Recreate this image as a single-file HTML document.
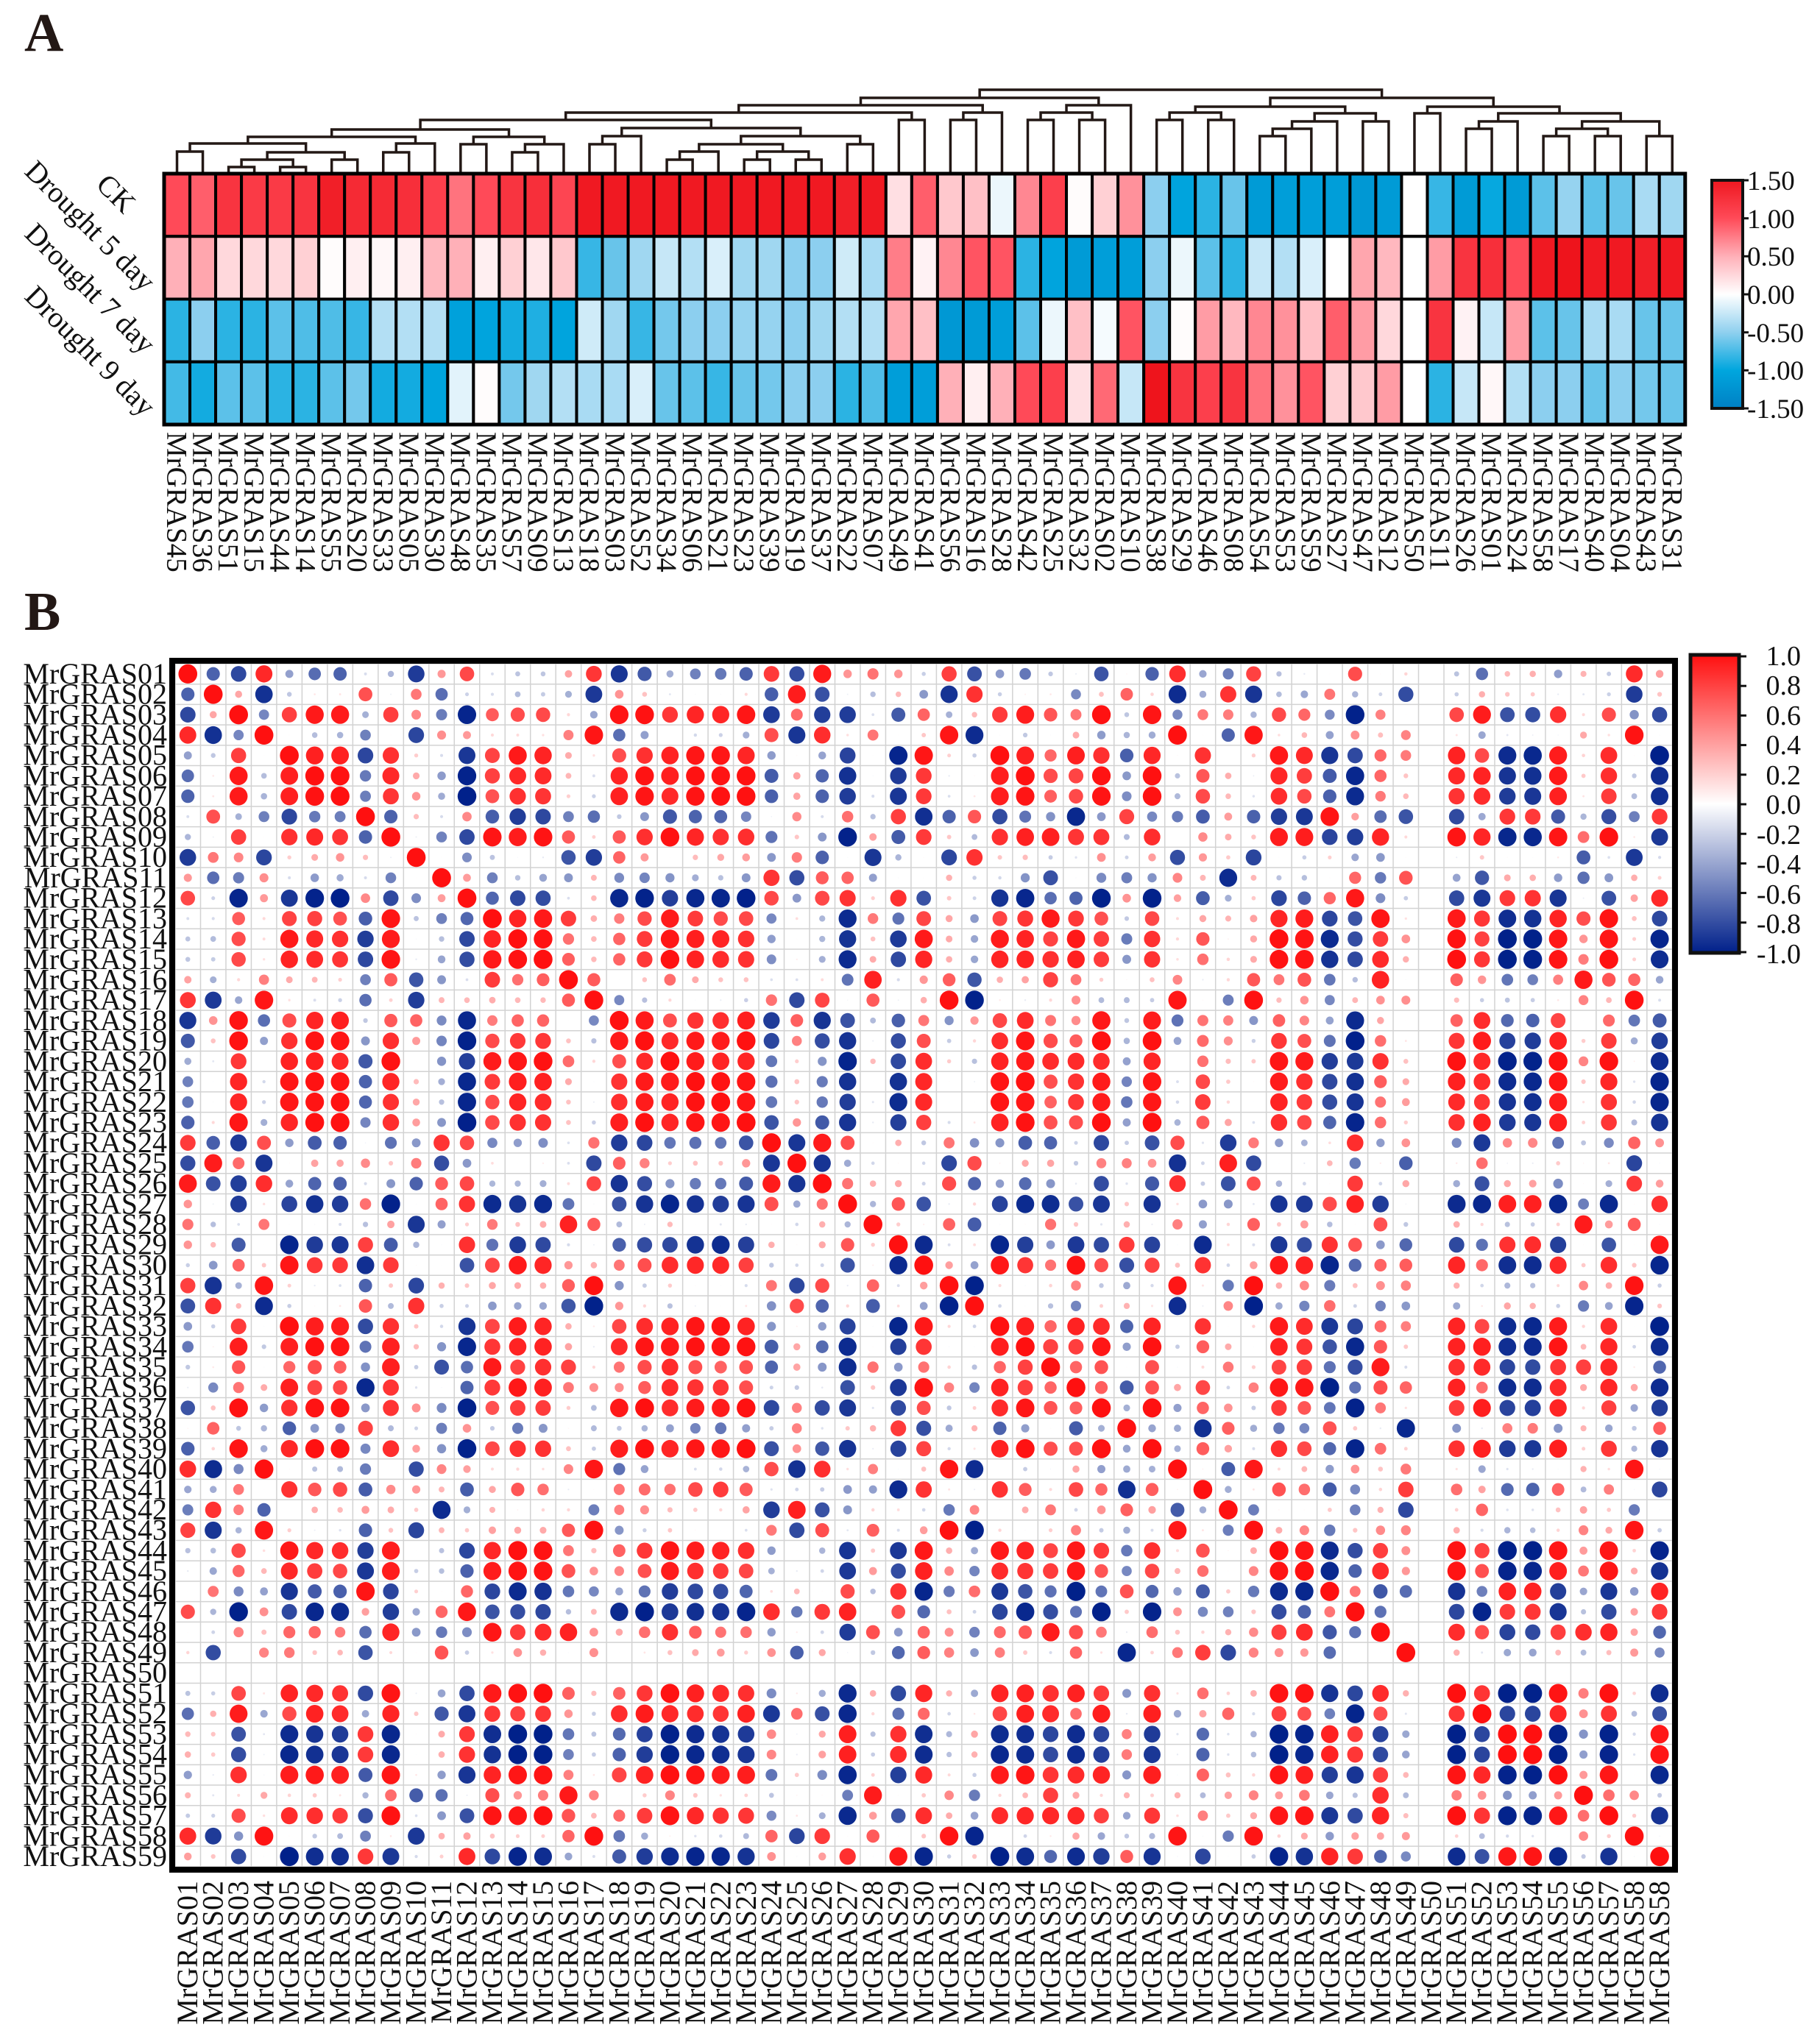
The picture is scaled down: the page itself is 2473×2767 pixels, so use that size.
<!DOCTYPE html>
<html><head><meta charset="utf-8">
<style>
html,body{margin:0;padding:0;background:#fff;}
svg{display:block;font-family:"Liberation Serif",serif;}
.al,.bl,.bc{font-size:39px;fill:#111;}
.bl,.bc{font-size:40px;}
.rl{font-size:40px;fill:#111;}
.cb{font-size:37px;fill:#111;}
.cb2{font-size:38px;fill:#111;}
</style></head><body>
<svg id="s" width="2473" height="2767" viewBox="0 0 2473 2767" xmlns="http://www.w3.org/2000/svg">
<rect width="2473" height="2767" fill="#fff"/>
<defs>
<linearGradient id="gA" x1="0" y1="0" x2="0" y2="1">
<stop offset="0" stop-color="#ee1820"/><stop offset="0.1667" stop-color="#ff4a58"/><stop offset="0.3333" stop-color="#ffb0b8"/><stop offset="0.5" stop-color="#ffffff"/><stop offset="0.6667" stop-color="#8fd0ef"/><stop offset="0.8333" stop-color="#00a6de"/><stop offset="1" stop-color="#0080c4"/>
</linearGradient>
<linearGradient id="gB" x1="0" y1="0" x2="0" y2="1">
<stop offset="0" stop-color="#ff1010"/><stop offset="0.5" stop-color="#ffffff"/><stop offset="1" stop-color="#00208a"/>
</linearGradient>
</defs>
<text x="33" y="69" style="font-size:74px;font-weight:bold;fill:#231815">A</text>
<text x="33" y="856" style="font-size:74px;font-weight:bold;fill:#231815">B</text>
<g id="dend" stroke="#231815" stroke-width="3.5" fill="none"></g>
<g id="heat"></g>
<text class="rl" transform="translate(168,292) rotate(45)" text-anchor="end">CK</text>
<text class="rl" transform="translate(195,398) rotate(45)" text-anchor="end">Drought 5 day</text>
<text class="rl" transform="translate(195,483) rotate(45)" text-anchor="end">Drought 7 day</text>
<text class="rl" transform="translate(195,568) rotate(45)" text-anchor="end">Drought 9 day</text>
<rect x="2326" y="245" width="42" height="310" fill="url(#gA)" stroke="#111" stroke-width="4"/>
<g stroke="#111" stroke-width="3">
<line x1="2368" y1="245" x2="2376" y2="245"/><line x1="2368" y1="296.7" x2="2376" y2="296.7"/><line x1="2368" y1="348.3" x2="2376" y2="348.3"/><line x1="2368" y1="400" x2="2376" y2="400"/><line x1="2368" y1="451.7" x2="2376" y2="451.7"/><line x1="2368" y1="503.3" x2="2376" y2="503.3"/><line x1="2368" y1="555" x2="2376" y2="555"/>
</g>
<text class="cb" x="2374" y="258">1.50</text>
<text class="cb" x="2374" y="310">1.00</text>
<text class="cb" x="2374" y="361">0.50</text>
<text class="cb" x="2374" y="413">0.00</text>
<text class="cb" x="2374" y="465">-0.50</text>
<text class="cb" x="2374" y="516">-1.00</text>
<text class="cb" x="2374" y="568">-1.50</text>
<g id="alabels">
<text class="al">MrGRAS45</text><text class="al">MrGRAS36</text><text class="al">MrGRAS51</text><text class="al">MrGRAS15</text><text class="al">MrGRAS44</text><text class="al">MrGRAS14</text><text class="al">MrGRAS55</text><text class="al">MrGRAS20</text><text class="al">MrGRAS33</text><text class="al">MrGRAS05</text><text class="al">MrGRAS30</text><text class="al">MrGRAS48</text><text class="al">MrGRAS35</text><text class="al">MrGRAS57</text><text class="al">MrGRAS09</text><text class="al">MrGRAS13</text><text class="al">MrGRAS18</text><text class="al">MrGRAS03</text><text class="al">MrGRAS52</text><text class="al">MrGRAS34</text><text class="al">MrGRAS06</text><text class="al">MrGRAS21</text><text class="al">MrGRAS23</text><text class="al">MrGRAS39</text><text class="al">MrGRAS19</text><text class="al">MrGRAS37</text><text class="al">MrGRAS22</text><text class="al">MrGRAS07</text><text class="al">MrGRAS49</text><text class="al">MrGRAS41</text><text class="al">MrGRAS56</text><text class="al">MrGRAS16</text><text class="al">MrGRAS28</text><text class="al">MrGRAS42</text><text class="al">MrGRAS25</text><text class="al">MrGRAS32</text><text class="al">MrGRAS02</text><text class="al">MrGRAS10</text><text class="al">MrGRAS38</text><text class="al">MrGRAS29</text><text class="al">MrGRAS46</text><text class="al">MrGRAS08</text><text class="al">MrGRAS54</text><text class="al">MrGRAS53</text><text class="al">MrGRAS59</text><text class="al">MrGRAS27</text><text class="al">MrGRAS47</text><text class="al">MrGRAS12</text><text class="al">MrGRAS50</text><text class="al">MrGRAS11</text><text class="al">MrGRAS26</text><text class="al">MrGRAS01</text><text class="al">MrGRAS24</text><text class="al">MrGRAS58</text><text class="al">MrGRAS17</text><text class="al">MrGRAS40</text><text class="al">MrGRAS04</text><text class="al">MrGRAS43</text><text class="al">MrGRAS31</text>
</g>
<g id="grid" stroke="#d2d2d2" stroke-width="1.5"></g>
<g id="dots"></g>
<rect x="234" y="898" width="2042" height="1643" fill="none" stroke="#000" stroke-width="8"/>
<rect x="2297" y="890" width="66" height="405" fill="url(#gB)" stroke="#111" stroke-width="5"/>
<g id="ticksB" stroke="#111" stroke-width="3"></g>
<text class="cb2" x="2447" y="904" text-anchor="end">1.0</text>
<text class="cb2" x="2447" y="944" text-anchor="end">0.8</text>
<text class="cb2" x="2447" y="985" text-anchor="end">0.6</text>
<text class="cb2" x="2447" y="1025" text-anchor="end">0.4</text>
<text class="cb2" x="2447" y="1066" text-anchor="end">0.2</text>
<text class="cb2" x="2447" y="1106" text-anchor="end">0.0</text>
<text class="cb2" x="2447" y="1147" text-anchor="end">-0.2</text>
<text class="cb2" x="2447" y="1187" text-anchor="end">-0.4</text>
<text class="cb2" x="2447" y="1228" text-anchor="end">-0.6</text>
<text class="cb2" x="2447" y="1268" text-anchor="end">-0.8</text>
<text class="cb2" x="2447" y="1309" text-anchor="end">-1.0</text>
<g id="brows">
<text class="bl">MrGRAS01</text><text class="bl">MrGRAS02</text><text class="bl">MrGRAS03</text><text class="bl">MrGRAS04</text><text class="bl">MrGRAS05</text><text class="bl">MrGRAS06</text><text class="bl">MrGRAS07</text><text class="bl">MrGRAS08</text><text class="bl">MrGRAS09</text><text class="bl">MrGRAS10</text><text class="bl">MrGRAS11</text><text class="bl">MrGRAS12</text><text class="bl">MrGRAS13</text><text class="bl">MrGRAS14</text><text class="bl">MrGRAS15</text><text class="bl">MrGRAS16</text><text class="bl">MrGRAS17</text><text class="bl">MrGRAS18</text><text class="bl">MrGRAS19</text><text class="bl">MrGRAS20</text><text class="bl">MrGRAS21</text><text class="bl">MrGRAS22</text><text class="bl">MrGRAS23</text><text class="bl">MrGRAS24</text><text class="bl">MrGRAS25</text><text class="bl">MrGRAS26</text><text class="bl">MrGRAS27</text><text class="bl">MrGRAS28</text><text class="bl">MrGRAS29</text><text class="bl">MrGRAS30</text><text class="bl">MrGRAS31</text><text class="bl">MrGRAS32</text><text class="bl">MrGRAS33</text><text class="bl">MrGRAS34</text><text class="bl">MrGRAS35</text><text class="bl">MrGRAS36</text><text class="bl">MrGRAS37</text><text class="bl">MrGRAS38</text><text class="bl">MrGRAS39</text><text class="bl">MrGRAS40</text><text class="bl">MrGRAS41</text><text class="bl">MrGRAS42</text><text class="bl">MrGRAS43</text><text class="bl">MrGRAS44</text><text class="bl">MrGRAS45</text><text class="bl">MrGRAS46</text><text class="bl">MrGRAS47</text><text class="bl">MrGRAS48</text><text class="bl">MrGRAS49</text><text class="bl">MrGRAS50</text><text class="bl">MrGRAS51</text><text class="bl">MrGRAS52</text><text class="bl">MrGRAS53</text><text class="bl">MrGRAS54</text><text class="bl">MrGRAS55</text><text class="bl">MrGRAS56</text><text class="bl">MrGRAS57</text><text class="bl">MrGRAS58</text><text class="bl">MrGRAS59</text>
</g>
<g id="bcols">
<text class="bc">MrGRAS01</text><text class="bc">MrGRAS02</text><text class="bc">MrGRAS03</text><text class="bc">MrGRAS04</text><text class="bc">MrGRAS05</text><text class="bc">MrGRAS06</text><text class="bc">MrGRAS07</text><text class="bc">MrGRAS08</text><text class="bc">MrGRAS09</text><text class="bc">MrGRAS10</text><text class="bc">MrGRAS11</text><text class="bc">MrGRAS12</text><text class="bc">MrGRAS13</text><text class="bc">MrGRAS14</text><text class="bc">MrGRAS15</text><text class="bc">MrGRAS16</text><text class="bc">MrGRAS17</text><text class="bc">MrGRAS18</text><text class="bc">MrGRAS19</text><text class="bc">MrGRAS20</text><text class="bc">MrGRAS21</text><text class="bc">MrGRAS22</text><text class="bc">MrGRAS23</text><text class="bc">MrGRAS24</text><text class="bc">MrGRAS25</text><text class="bc">MrGRAS26</text><text class="bc">MrGRAS27</text><text class="bc">MrGRAS28</text><text class="bc">MrGRAS29</text><text class="bc">MrGRAS30</text><text class="bc">MrGRAS31</text><text class="bc">MrGRAS32</text><text class="bc">MrGRAS33</text><text class="bc">MrGRAS34</text><text class="bc">MrGRAS35</text><text class="bc">MrGRAS36</text><text class="bc">MrGRAS37</text><text class="bc">MrGRAS38</text><text class="bc">MrGRAS39</text><text class="bc">MrGRAS40</text><text class="bc">MrGRAS41</text><text class="bc">MrGRAS42</text><text class="bc">MrGRAS43</text><text class="bc">MrGRAS44</text><text class="bc">MrGRAS45</text><text class="bc">MrGRAS46</text><text class="bc">MrGRAS47</text><text class="bc">MrGRAS48</text><text class="bc">MrGRAS49</text><text class="bc">MrGRAS50</text><text class="bc">MrGRAS51</text><text class="bc">MrGRAS52</text><text class="bc">MrGRAS53</text><text class="bc">MrGRAS54</text><text class="bc">MrGRAS55</text><text class="bc">MrGRAS56</text><text class="bc">MrGRAS57</text><text class="bc">MrGRAS58</text><text class="bc">MrGRAS58</text>
</g>
</svg>
<script>
(function(){
var NS="http://www.w3.org/2000/svg";
function el(t,a,p){var e=document.createElementNS(NS,t);for(var k in a)e.setAttribute(k,a[k]);p.appendChild(e);return e;}
var order=[45,36,51,15,44,14,55,20,33,5,30,48,35,57,9,13,18,3,52,34,6,21,23,39,19,37,22,7,49,41,56,16,28,42,25,32,2,10,38,29,46,8,54,53,59,27,47,12,50,11,26,1,24,58,17,40,4,43,31];
var V=[[1.0,0.5,-1.0,-0.9],[0.9,0.55,-0.6,-1.1],[1.2,0.25,-1.0,-0.8],[1.15,0.25,-1.0,-0.8],[1.15,0.25,-0.8,-1.0],[1.2,0.3,-0.85,-1.0],[1.4,0.02,-0.85,-0.8],[1.3,0.1,-0.95,-0.7],[1.3,0.05,-0.4,-1.1],[1.25,0.1,-0.4,-1.1],[1.1,0.45,-0.4,-1.2],[0.8,0.5,-1.25,-0.15],[1.0,0.1,-1.2,0.02],[1.2,0.3,-1.1,-0.7],[1.25,0.15,-1.05,-0.5],[1.05,0.35,-1.2,-0.4],
[1.45,-0.95,-0.25,-0.45],[1.45,-0.75,-0.5,-0.45],[1.45,-0.5,-0.95,-0.2],[1.45,-0.3,-0.7,-0.75],[1.45,-0.4,-0.6,-0.8],[1.45,-0.2,-0.6,-0.95],[1.45,-0.5,-0.55,-0.75],[1.45,-0.5,-0.55,-0.7],[1.45,-0.6,-0.6,-0.6],[1.45,-0.6,-0.5,-0.6],[1.4,-0.25,-0.4,-1.0],[1.45,-0.45,-0.4,-0.85],
[0.2,0.75,0.55,-1.3],[0.9,0.08,0.4,-1.3],[0.35,0.7,-1.4,0.5],[0.4,0.95,-1.35,0.1],[-0.1,0.95,-1.3,0.5],[0.7,-1.0,-0.8,1.0],[1.1,-1.2,-0.1,1.1],[0.02,-1.35,0.4,0.2],[0.3,-1.3,-0.05,0.85],[0.65,-1.3,0.95,-0.3],
[-0.6,-0.6,-0.6,1.5],[-1.2,-0.1,0.02,1.2],[-1.0,-0.8,0.6,1.1],[-0.75,-1.0,0.45,1.2],[-1.35,-0.3,0.7,0.8],[-1.3,-0.4,0.65,0.65],[-1.3,-0.2,0.4,0.95],[-1.3,0.0,0.9,0.3],[-1.4,0.55,0.6,0.35],[-1.35,0.45,0.25,0.6],[0,0,0,0],[-0.95,0.6,1.2,-1.0],
[-1.35,1.2,0.08,-0.3],[-1.15,1.25,-0.3,0.05],[-1.35,1.0,0.6,-0.4],[-0.8,1.45,-0.8,-0.6],[-0.55,1.5,-0.75,-0.6],[-0.8,1.45,-0.45,-0.75],[-0.75,1.45,-0.45,-0.6],[-0.45,1.4,-0.75,-0.7],[-0.5,1.45,-0.75,-0.75]];
function lerp(a,b,t){return a+(b-a)*t;}
function hex(c){return "rgb("+c.map(function(v){return Math.round(v)}).join(",")+")";}
var stopsA=[[-1.5,[0,128,196]],[-1.0,[0,166,222]],[-0.5,[143,208,239]],[0,[255,255,255]],[0.5,[255,176,184]],[1.0,[255,74,88]],[1.5,[238,20,28]]];
function colA(v){if(v<0)v*=0.85;v=Math.max(-1.5,Math.min(1.5,v));for(var i=0;i<stopsA.length-1;i++){var a=stopsA[i],b=stopsA[i+1];if(v<=b[0]){var t=(v-a[0])/(b[0]-a[0]);return hex([0,1,2].map(function(k){return lerp(a[1][k],b[1][k],t)}));}}return hex(stopsA[6][1]);}
var hx=223,cw=35.03,hy=236,rh=85.25;
var heat=document.getElementById("heat");
for(var i=0;i<59;i++)for(var r=0;r<4;r++){el("rect",{x:hx+cw*i,y:hy+rh*r,width:cw,height:rh,fill:colA(V[i][r]),stroke:"#000","stroke-width":4},heat);}
el("rect",{x:hx,y:hy,width:cw*59,height:rh*4,fill:"none",stroke:"#000","stroke-width":5},heat);
var al=document.getElementById("alabels").children;
for(var i=0;i<al.length;i++){var cx=hx+cw*(i+0.5)-13;al[i].setAttribute("transform","translate("+cx+",587) rotate(90)");}
var dg=document.getElementById("dend");
function L(i){return {m:hx+cw*(i+0.5),h:hy};}
function n(a,b,h){if(typeof a==="number")a=L(a);if(typeof b==="number")b=L(b);
el("path",{d:"M"+a.m+","+a.h+"V"+h+"H"+b.m+"V"+b.h},dg);return {m:(a.m+b.m)/2,h:h};}
var L0=n(n(0,1,206),n(n(n(2,3,227),n(4,5,227),217),n(6,7,217),207),195);
var L1=n(n(8,9,207),10,195);
var L2=n(L0,L1,186);
var L3=n(n(11,12,196),n(n(13,14,207),15,196),186);
var Left=n(L2,L3,176);
var A_=n(n(16,17,196),18,185);
var D=n(n(19,20,217),21,206),G=n(n(22,23,217),n(24,25,217),206),H=n(D,G,196),J=n(H,n(26,27,196),185),K=n(A_,J,174);
var Ln=n(Left,K,163);
var N=n(Ln,n(28,29,163),153);
var P=n(n(30,31,163),32,153);
var O=n(N,P,143);
var Q=n(n(n(33,34,163),n(35,36,163),153),37,143);
var R=n(O,Q,133);
var X=n(n(38,39,163),n(40,41,163),153);
var T=n(n(42,43,185),44,175),U=n(T,45,165),Vn=n(U,n(46,47,165),154),W=n(X,Vn,145);
var Yr=n(n(48,49,154),n(n(n(50,51,175),52,165),n(n(n(53,54,185),n(55,56,185),175),n(57,58,185),165),154),145);
var S=n(W,Yr,133);n(R,S,122);
var byNum={};for(var i=0;i<59;i++)byNum[order[i]]=V[i];
function corr(a,b){var ma=(a[0]+a[1]+a[2]+a[3])/4,mb=(b[0]+b[1]+b[2]+b[3])/4,sab=0,saa=0,sbb=0;for(var k=0;k<4;k++){var x=a[k]-ma,y=b[k]-mb;sab+=x*y;saa+=x*x;sbb+=y*y;}if(saa<1e-9||sbb<1e-9)return 0;return sab/Math.sqrt(saa*sbb);}
var bx=238,bw=34.48,by=902,bh=27.71;
var grid=document.getElementById("grid");
for(var i=0;i<=59;i++){el("line",{x1:bx+bw*i,y1:by,x2:bx+bw*i,y2:by+bh*59},grid);el("line",{x1:bx,y1:by+bh*i,x2:bx+bw*59,y2:by+bh*i},grid);}
function colB(r){var c;if(r>=0){c=[255,lerp(255,16,r),lerp(255,16,r)];}else{var t=-r;c=[lerp(255,0,t),lerp(255,32,t),lerp(255,138,t)];}return hex(c);}
var dots=document.getElementById("dots");
for(var i=1;i<=59;i++)for(var j=1;j<=59;j++){var r=(i===j&&i!==50)?1:corr(byNum[i],byNum[j]);
var rad=Math.max(0.6,12.8*Math.abs(r));
el("ellipse",{cx:bx+bw*(j-0.5),cy:by+bh*(i-0.5),rx:rad,ry:rad*1.02,fill:colB(r)},dots);}
var tb=document.getElementById("ticksB");
for(var k=0;k<=10;k++){var y=892+40.2*k;el("line",{x1:2363,y1:y,x2:2373,y2:y},tb);}
var br=document.getElementById("brows").children;
for(var i=0;i<br.length;i++){br[i].setAttribute("x",227);br[i].setAttribute("y",by+bh*(i+0.5)+13);br[i].setAttribute("text-anchor","end");}
var bc=document.getElementById("bcols").children;
for(var i=0;i<bc.length;i++){var cx=bx+bw*(i+0.5)+13;bc[i].setAttribute("transform","translate("+cx+",2556) rotate(-90)");bc[i].setAttribute("text-anchor","end");}
})();
</script>
</body></html>
